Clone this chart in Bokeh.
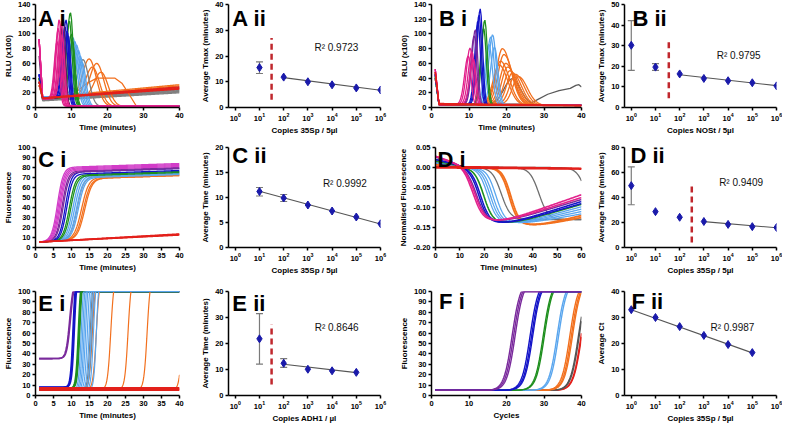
import numpy as np
from bokeh.plotting import figure
from bokeh.layouts import row, column
from bokeh.models import (Range1d, FixedTicker, NumeralTickFormatter, Label, Whisker,
                          TeeHead, ColumnDataSource, LogTickFormatter)
from bokeh.embed import file_html
from bokeh.resources import INLINE

FONT = "Liberation Sans"

# ---------------- colours ----------------
MAGENTA = "#E2218C"
PINK_C = "#D23DC8"
PURPLE = "#7A2A9C"
DARKPUR = "#5E1D5E"
BLUE = "#1414C8"
GREEN = "#1E8F1E"
LBLUE = "#5AA6EE"
ORANGE = "#F2701E"
GRAY = "#808080"
RED = "#E3201B"
DIAMOND = "#1A1AAA"
FIT = "#555555"
CUT = "#C0272D"
ERR = "#7A7A7A"

# ================= DATA =================
# ---- A i : BART luminescence, 35Sp (RLU x100) : peak time / peak height per replicate
ai_mag_tp = [6.0, 6.3, 6.6, 6.9, 7.2, 7.5]
ai_mag_h = [90, 108, 120, 100, 115, 95]
ai_dpur_tp = [7.7]
ai_dpur_h = [120]
ai_blue_tp = [8.2, 8.5, 8.8, 9.1]
ai_blue_h = [110, 119, 104, 98]
ai_green_tp = [9.4, 9.7, 10.0, 10.3]
ai_green_h = [118, 129, 100, 90]
ai_lblue_tp = [10.4, 10.9, 11.4, 11.9, 12.4, 12.9]
ai_lblue_h = [95, 90, 85, 78, 70, 62]
ai_gray_tp = [13.2]
ai_gray_h = [65]
ai_orange_tp = [14.9, 15.8, 17.0, 18.2]
ai_orange_h = [66, 55, 60, 48]
ai_orange_plateau_t = [1, 2, 8, 11, 14, 17, 22, 24, 26, 28, 30, 40]
ai_orange_plateau_y = [40, 14, 14, 20, 32, 40, 40, 33, 18, 2, 1.5, 1.5]
ai_neg_gray_base = [9, 10, 10, 11, 11, 12, 12, 12]
ai_neg_gray_end = [20, 21, 22, 23, 24, 25, 26, 28]
ai_neg_orange_base = [13, 14]
ai_neg_orange_end = [29.5, 31]
ai_neg_red_base = [12, 12.5, 13, 13]
ai_neg_red_end = [25, 26, 27, 28]

# ---- B i : BART luminescence, NOSt
bi_mag_tp = [9.8, 10.3, 10.8, 11.2]
bi_mag_h = [70, 81, 76, 66]
bi_pur_tp = [11.4, 11.7]
bi_pur_h = [98, 106]
bi_blue_tp = [12.4, 12.7, 13.0]
bi_blue_h = [118, 126, 134]
bi_green_tp = [13.9, 14.2]
bi_green_h = [108, 119]
bi_lblue_tp = [15.3, 15.8, 16.3, 16.8]
bi_lblue_h = [86, 96, 99, 82]
bi_orange_tp = [18.0, 18.4, 18.9, 19.3, 19.8, 20.3, 20.9, 21.6, 22.4, 23.2]
bi_orange_h = [58, 63, 80, 72, 60, 55, 50, 47, 45, 42]
bi_gray_tp = [21.5]
bi_gray_h = [39]
bi_gray_late_t = [1, 2, 24, 26, 28, 31, 34, 37, 38.5, 39.3, 40]
bi_gray_late_y = [48, 4, 4.5, 5, 10, 18, 23, 26, 30, 31, 28]
bi_red_base = [3.5, 4.5, 5.5]
bi_red_end = [2, 2.5, 3]

# ---- C i : LAMP fluorescence, 35Sp (midpoint time / value at 40 min)
ci_mag_mid = [6.1, 6.4, 6.7, 7.0]
ci_mag_top = [84, 83, 82, 81]
ci_pur_mid = [7.4, 7.7]
ci_pur_top = [80, 79]
ci_blue_mid = [8.3, 8.7]
ci_blue_top = [79, 77]
ci_green_mid = [9.4, 9.8]
ci_green_top = [76, 75]
ci_lblue_mid = [10.4, 10.9, 11.4, 11.9]
ci_lblue_top = [76, 75, 74, 73]
ci_gray_mid = [11.6]
ci_gray_top = [74]
ci_orange_mid = [12.8, 13.3, 13.7]
ci_orange_top = [73, 72, 72]
ci_red_end = [12.5, 13.0, 13.5]

# ---- D i : normalised fluorescence (midpoint time / value at 60 min)
di_mag_mid = [15.6, 16.3]
di_mag_final = [-0.068, -0.075]
di_pur_mid = [16.8]
di_pur_final = [-0.080]
di_blue_mid = [17.8, 18.5]
di_blue_final = [-0.085, -0.090]
di_green_mid = [19.8]
di_green_final = [-0.092]
di_lblue_mid = [21.5, 22.5, 23.5, 24.8]
di_lblue_final = [-0.098, -0.104, -0.110, -0.116]
di_orange_mid = [30.3, 31.0]
di_orange_final = [-0.120, -0.125]
di_gray_mid = [27.0, 42.5, 62.0]
di_gray_final = [-0.130, -0.130, -0.130]
di_red_start = [0.003, 0.001, -0.001]
di_red_end = [-0.002, -0.003, -0.004]

# ---- E i : fluorescence, ADH1 (midpoint times)
ei_pur_mid = [9.5, 9.7]
ei_blue_mid = [10.4, 10.6, 10.8]
ei_green_mid = [11.9, 12.1, 12.3]
ei_lblue_mid = [12.7, 13.1, 13.5, 13.9, 14.4, 14.9, 15.5, 16.1, 16.9]
ei_gray_mid = [15.2, 15.6]
ei_orange_mid = [15.8, 16.9, 20.9, 25.7, 31.0, 40.85]
ei_red_level = [5.0, 5.6, 6.2, 6.8, 7.4]

# ---- F i : qPCR (midpoint cycles)
fi_pur_mid = [21.5, 21.9, 22.3]
fi_blue_mid = [26.3, 26.7, 27.0]
fi_green_mid = [29.8, 30.1]
fi_lblue_mid = [33.5, 33.9]
fi_orange_mid = [36.9, 37.3, 37.6]
fi_gray_mid = [39.2, 39.4]
fi_red_mid = [39.9, 40.05]

# ---- ii panels (standard curves)
aii_x = [1e1, 1e2, 1e3, 1e4, 1e5, 1e6]
aii_y = [15.5, 11.8, 10.0, 8.8, 7.6, 6.8]
aii_err_x, aii_err_lo, aii_err_hi = [1e1], [13.2], [17.7]
aii_fit_x, aii_fit_y = [1e2, 1e6], [11.6, 6.7]
aii_cut_x, aii_cut_y = [10 ** 1.5, 10 ** 1.5], [3, 27]

bii_x = [1e0, 1e1, 1e2, 1e3, 1e4, 1e5, 1e6]
bii_y = [30.2, 19.6, 16.3, 14.1, 13.0, 12.0, 10.5]
bii_err_x, bii_err_lo, bii_err_hi = [1e0, 1e1], [18.0, 18.0], [42.2, 21.3]
bii_fit_x, bii_fit_y = [1e2, 1e6], [15.9, 10.6]
bii_cut_x, bii_cut_y = [10 ** 1.55, 10 ** 1.55], [4.5, 33]

cii_x = [1e1, 1e2, 1e3, 1e4, 1e5, 1e6]
cii_y = [11.2, 9.9, 8.5, 7.3, 6.1, 4.75]
cii_err_x, cii_err_lo, cii_err_hi = [1e1, 1e2], [10.3, 9.2], [12.0, 10.6]
cii_fit_x, cii_fit_y = [1e1, 1e6], [11.25, 4.7]

dii_x = [1e0, 1e1, 1e2, 1e3, 1e4, 1e5, 1e6]
dii_y = [49.5, 28.7, 24.2, 20.8, 18.5, 16.7, 16.0]
dii_err_x, dii_err_lo, dii_err_hi = [1e0], [34.2], [64.5]
dii_fit_x, dii_fit_y = [1e3, 1e6], [20.7, 15.8]
dii_cut_x, dii_cut_y = [10 ** 2.5, 10 ** 2.5], [4, 50]

eii_x = [1e1, 1e2, 1e3, 1e4, 1e5]
eii_y = [21.8, 12.4, 10.1, 9.5, 8.9]
eii_err_x, eii_err_lo, eii_err_hi = [1e1, 1e2], [12.1, 10.8], [31.5, 14.2]
eii_fit_x, eii_fit_y = [1e2, 1e5], [12.0, 8.8]
eii_cut_x, eii_cut_y = [10 ** 1.5, 10 ** 1.5], [4.2, 27.4]

fii_x = [1e0, 1e1, 1e2, 1e3, 1e4, 1e5]
fii_y = [33.0, 30.0, 26.5, 23.1, 19.6, 16.5]
fii_fit_x, fii_fit_y = [1e0, 1e5], [33.0, 16.4]

copies_ticks = [1e0, 1e1, 1e2, 1e3, 1e4, 1e5, 1e6]
time40_ticks10 = [0, 10, 20, 30, 40]
time40_ticks5 = [0, 5, 10, 15, 20, 25, 30, 35, 40]
time60_ticks = [0, 10, 20, 30, 40, 50, 60]
rlu_ticks = [0, 20, 40, 60, 80, 100, 120, 140]
fluor_ticks = [0, 10, 20, 30, 40, 50, 60, 70, 80, 90, 100]
norm_ticks = [-0.20, -0.15, -0.10, -0.05, 0.00, 0.05]

# ================= LAYOUT =================
COL_W = [198, 198, 198, 188]
COL_L = [27, 25, 27, 28]
COL_R = [19, 16, 13, 6]
ROW_H = [137, 144, 144]
LOG_LO = 10 ** -0.28


def make_fig(ci, ri, top, bottom, xr, yr, xlog=False, left=None):
    w, h = COL_W[ci], ROW_H[ri]
    l = COL_L[ci] if left is None else left
    r = COL_R[ci]
    p = figure(width=w, height=h, min_border_left=l, min_border_right=r,
               min_border_top=top, min_border_bottom=bottom,
               x_range=Range1d(*xr), y_range=Range1d(*yr),
               x_axis_type="log" if xlog else "linear",
               output_backend="svg", toolbar_location=None)
    p.outline_line_color = None
    p.grid.visible = False
    p.background_fill_color = "white"
    p.border_fill_color = "white"
    p._fw = w - l - r
    p._fh = h - top - bottom
    p._xr, p._yr, p._xlog = xr, yr, xlog
    return p


def style(p, xlabel, ylabel, xticks, yticks, yfmt=None):
    for ax in (p.xaxis[0], p.yaxis[0]):
        ax.axis_line_width = 1.5
        ax.axis_line_color = "black"
        ax.major_tick_line_width = 1.5
        ax.major_tick_line_color = "black"
        ax.major_tick_out = 3
        ax.major_tick_in = 0
        ax.minor_tick_line_color = None
        ax.major_label_text_font = FONT
        ax.major_label_text_font_size = "7.5px"
        ax.major_label_text_font_style = "bold"
        ax.major_label_text_color = "black"
        ax.axis_label_text_font = FONT
        ax.axis_label_text_font_size = "8px"
        ax.axis_label_text_font_style = "bold"
        ax.axis_label_text_color = "black"
        ax.major_label_standoff = 2
        ax.axis_label_standoff = 2
    p.xaxis.axis_label = xlabel
    p.yaxis.axis_label = ylabel
    p.xaxis.ticker = FixedTicker(ticks=xticks)
    p.yaxis.ticker = FixedTicker(ticks=yticks)
    if p._xlog:
        p.xaxis.formatter = LogTickFormatter()
    if yfmt:
        p.yaxis.formatter = NumeralTickFormatter(format=yfmt)


def tag(p, text, dx, dy):
    xr, yr, fw, fh = p._xr, p._yr, p._fw, p._fh
    if p._xlog:
        a, b = np.log10(xr[0]), np.log10(xr[1])
        x = 10 ** (a + dx * (b - a) / fw)
    else:
        x = xr[0] + dx * (xr[1] - xr[0]) / fw
    y = yr[1] - dy * (yr[1] - yr[0]) / fh
    p.add_layout(Label(x=x, y=y, text=text, text_font=FONT, text_font_size="22px",
                       text_font_style="bold", text_baseline="alphabetic",
                       text_align="left", text_color="black"))


def r2(p, text, x, y):
    p.add_layout(Label(x=x, y=y, text=text, text_font=FONT, text_font_size="10px",
                       text_baseline="middle", text_align="left", text_color="#111111"))


def ml(p, t, curves, color, width=1.3):
    p.multi_line([list(t)] * len(curves), [list(c) for c in curves],
                 line_color=color, line_width=width)


# curve shapes
def rlu_peak(t, start, base, floor, tp, h, wr, wf):
    rise = base + (h - base) * np.exp(-((t - tp) / wr) ** 2)
    fall = floor + (h - floor) * np.exp(-((t - tp) / wf) ** 2)
    y = np.where(t < tp, rise, fall)
    return np.where(t < 2, start + (base - start) * (t - 1), y)


def rlu_drift(t, start, base, end):
    return np.where(t < 2, start + (base - start) * (t - 1), base + (end - base) * (t - 2) / 38)


def sig_rise(t, mid, s, top):
    lo = 5.5 + 0.2 * (t - 1)
    hi = top - 0.12 * (40 - t)
    return lo + (hi - lo) / (1 + np.exp(-(t - mid) / s))


def dip(t, start, mid, s, depth, final):
    pre = start * np.clip(1 - t / 14, 0, None)
    drop = -depth / (1 + np.exp(-(t - mid) / s))
    tmin = mid + 13
    ramp = 4 * np.log1p(np.exp((t - tmin) / 4))
    ramp_end = 4 * np.log1p(np.exp((60 - tmin) / 4))
    return pre + drop + (final + depth) * ramp / ramp_end


def clip_rise(t, base, mid, s, amp):
    return np.minimum(100, base + amp / (1 + np.exp(-(t - mid) / s)))


def standard_panel(p, xs, ys, ex, elo, ehi, fx, fy, cut=None):
    if cut is not None:
        p.line(cut[0], cut[1], line_color=CUT, line_width=2.5, line_dash="6 4")
    p.line(fx, fy, line_color=FIT, line_width=1.1)
    if ex:
        src = ColumnDataSource(dict(x=ex, lo=elo, hi=ehi))
        p.add_layout(Whisker(source=src, base="x", lower="lo", upper="hi",
                             line_color=ERR, line_width=1.2,
                             upper_head=TeeHead(size=7, line_color=ERR, line_width=1.2),
                             lower_head=TeeHead(size=7, line_color=ERR, line_width=1.2)))
    p.scatter(xs, ys, marker="diamond", size=8, fill_color=DIAMOND, line_color=DIAMOND)


# ================= A i =================
ai = make_fig(0, 0, 4, 28, (0, 40), (0, 140))
style(ai, "Time (minutes)", "RLU (x100)", time40_ticks10, rlu_ticks)
t = np.arange(1, 40.001, 0.25)
ml(ai, t, [rlu_drift(t, 35, b, e) for b, e in zip(ai_neg_gray_base, ai_neg_gray_end)], GRAY)
ml(ai, t, [rlu_drift(t, 35, b, e) for b, e in zip(ai_neg_orange_base, ai_neg_orange_end)], ORANGE)
ai.line(ai_orange_plateau_t, ai_orange_plateau_y, line_color=ORANGE, line_width=1.3)
ml(ai, t, [rlu_peak(t, 30, 14, 1.5, a, b, 2.6, 2.8) for a, b in zip(ai_orange_tp, ai_orange_h)], ORANGE)
ml(ai, t, [rlu_peak(t, 30, 13, 1.5, a, b, 2.2, 2.2) for a, b in zip(ai_gray_tp, ai_gray_h)], GRAY)
ml(ai, t, [rlu_peak(t, 35, 14, 1.5, a, b, 1.8, 1.5) for a, b in zip(ai_lblue_tp, ai_lblue_h)], LBLUE)
ml(ai, t, [rlu_peak(t, 40, 13, 1.5, a, b, 1.4, 1.1) for a, b in zip(ai_green_tp, ai_green_h)], GREEN)
ml(ai, t, [rlu_peak(t, 45, 13, 1.5, a, b, 1.3, 1.0) for a, b in zip(ai_blue_tp, ai_blue_h)], BLUE)
ml(ai, t, [rlu_peak(t, 70, 12, 1.5, a, b, 1.2, 0.9) for a, b in zip(ai_dpur_tp, ai_dpur_h)], DARKPUR)
ml(ai, t, [rlu_peak(t, 93, 12, 2.0, a, b, 1.1, 0.9) for a, b in zip(ai_mag_tp, ai_mag_h)], MAGENTA)
ml(ai, t, [rlu_drift(t, 35, b, e) for b, e in zip(ai_neg_red_base, ai_neg_red_end)], RED)
tag(ai, "A i", 3, 14)

# ================= A ii =================
aii = make_fig(1, 0, 4, 30, (LOG_LO, 1e6), (0, 40), xlog=True)
style(aii, "Copies 35Sp / 5µl", "Average Tmax (minutes)", copies_ticks, [0, 10, 20, 30, 40])
standard_panel(aii, aii_x, aii_y, aii_err_x, aii_err_lo, aii_err_hi, aii_fit_x, aii_fit_y,
               (aii_cut_x, aii_cut_y))
r2(aii, "R² 0.9723", 10 ** 3.27, 23.2)
tag(aii, "A ii", 4, 14)

# ================= B i =================
bi = make_fig(2, 0, 4, 28, (0, 40), (0, 140))
style(bi, "Time (minutes)", "RLU (x100)", time40_ticks10, rlu_ticks)
bi.line(bi_gray_late_t, bi_gray_late_y, line_color="#5A5A5A", line_width=1.3)
ml(bi, t, [rlu_peak(t, 40, 5, 3, a, b, 3.0, 3.2) for a, b in zip(bi_gray_tp, bi_gray_h)], "#5A5A5A")
ml(bi, t, [rlu_peak(t, 40, 5, 3, a, b, 2.2, 3.3) for a, b in zip(bi_orange_tp, bi_orange_h)], ORANGE)
ml(bi, t, [rlu_peak(t, 40, 4, 3, a, b, 1.5, 1.3) for a, b in zip(bi_lblue_tp, bi_lblue_h)], LBLUE)
ml(bi, t, [rlu_peak(t, 42, 4, 3, a, b, 1.2, 1.0) for a, b in zip(bi_green_tp, bi_green_h)], GREEN)
ml(bi, t, [rlu_peak(t, 45, 4, 3, a, b, 1.2, 0.9) for a, b in zip(bi_blue_tp, bi_blue_h)], BLUE)
ml(bi, t, [rlu_peak(t, 45, 4, 3, a, b, 1.3, 0.9) for a, b in zip(bi_pur_tp, bi_pur_h)], PURPLE)
ml(bi, t, [rlu_peak(t, 52, 4, 3, a, b, 1.4, 1.0) for a, b in zip(bi_mag_tp, bi_mag_h)], MAGENTA)
ml(bi, t, [rlu_drift(t, 48, b, e) for b, e in zip(bi_red_base, bi_red_end)], RED)
tag(bi, "B i", 8, 14)

# ================= B ii =================
bii = make_fig(3, 0, 4, 30, (LOG_LO, 1e6), (0, 50), xlog=True)
style(bii, "Copies NOSt / 5µl", "Average Tmax (minutes)", copies_ticks, [0, 10, 20, 30, 40, 50])
standard_panel(bii, bii_x, bii_y, bii_err_x, bii_err_lo, bii_err_hi, bii_fit_x, bii_fit_y,
               (bii_cut_x, bii_cut_y))
r2(bii, "R² 0.9795", 10 ** 3.53, 25.2)
tag(bii, "B ii", 8, 14)

# ================= C i =================
ci = make_fig(0, 1, 5, 34, (0, 40), (0, 100))
style(ci, "Time (minutes)", "Fluorescence", time40_ticks5, fluor_ticks)
ml(ci, t, [sig_rise(t, m, 1.0, top) for m, top in zip(ci_orange_mid, ci_orange_top)], ORANGE)
ml(ci, t, [sig_rise(t, m, 0.9, top) for m, top in zip(ci_gray_mid, ci_gray_top)], "#8C9BB0")
ml(ci, t, [sig_rise(t, m, 0.9, top) for m, top in zip(ci_lblue_mid, ci_lblue_top)], LBLUE)
ml(ci, t, [sig_rise(t, m, 0.85, top) for m, top in zip(ci_green_mid, ci_green_top)], GREEN)
ml(ci, t, [sig_rise(t, m, 0.8, top) for m, top in zip(ci_blue_mid, ci_blue_top)], BLUE)
ml(ci, t, [sig_rise(t, m, 0.8, top) for m, top in zip(ci_pur_mid, ci_pur_top)], PURPLE)
ml(ci, t, [sig_rise(t, m, 0.8, top) for m, top in zip(ci_mag_mid, ci_mag_top)], PINK_C)
ml(ci, t, [5.5 + (e - 5.5) * (t - 1) / 39 for e in ci_red_end], RED, 1.6)
tag(ci, "C i", 3, 13)

# ================= C ii =================
cii = make_fig(1, 1, 10, 29, (LOG_LO, 1e6), (0, 20), xlog=True)
style(cii, "Copies 35Sp / 5µl", "Average Time (minutes)", copies_ticks, [0, 5, 10, 15, 20])
standard_panel(cii, cii_x, cii_y, cii_err_x, cii_err_lo, cii_err_hi, cii_fit_x, cii_fit_y)
r2(cii, "R² 0.9992", 10 ** 3.62, 12.8)
tag(cii, "C ii", 4, 8)

# ================= D i =================
di = make_fig(2, 1, 5, 34, (0, 60), (-0.20, 0.05), left=32)
style(di, "Time (minutes)", "Normalised Fluorescence", time60_ticks, norm_ticks, "0.00")
td = np.arange(0, 60.001, 0.25)
ml(di, td, [dip(td, 0.010, m, 1.9, 0.13, f) for m, f in zip(di_gray_mid, di_gray_final)], "#6E6E6E")
ml(di, td, [dip(td, 0.008, m, 1.8, 0.145, f) for m, f in zip(di_orange_mid, di_orange_final)], ORANGE, 1.8)
ml(di, td, [dip(td, 0.012, m, 1.9, 0.14, f) for m, f in zip(di_lblue_mid, di_lblue_final)], LBLUE)
ml(di, td, [dip(td, 0.016, m, 1.9, 0.14, f) for m, f in zip(di_green_mid, di_green_final)], GREEN, 1.6)
ml(di, td, [dip(td, 0.020, m, 1.9, 0.14, f) for m, f in zip(di_blue_mid, di_blue_final)], BLUE, 1.5)
ml(di, td, [dip(td, 0.026, m, 2.0, 0.135, f) for m, f in zip(di_pur_mid, di_pur_final)], PURPLE, 1.5)
ml(di, td, [dip(td, 0.028, m, 2.0, 0.135, f) for m, f in zip(di_mag_mid, di_mag_final)], MAGENTA, 1.6)
ml(di, td, [s + (e - s) * td / 60 for s, e in zip(di_red_start, di_red_end)], RED, 1.6)
tag(di, "D i", 2, 13)

# ================= D ii =================
dii = make_fig(3, 1, 10, 29, (LOG_LO, 1e6), (0, 80), xlog=True)
style(dii, "Copies 35Sp / 5µl", "Average Time (minutes)", copies_ticks, [0, 20, 40, 60, 80])
standard_panel(dii, dii_x, dii_y, dii_err_x, dii_err_lo, dii_err_hi, dii_fit_x, dii_fit_y,
               (dii_cut_x, dii_cut_y))
r2(dii, "R² 0.9409", 10 ** 3.63, 51.8)
tag(dii, "D ii", 6, 8)

# ================= E i =================
ei = make_fig(0, 2, 10, 29, (0, 40), (0, 100))
style(ei, "Time (minutes)", "Fluorescence", time40_ticks5, fluor_ticks)
te = np.arange(1, 40.001, 0.1)
ml(ei, te, [clip_rise(te, 35.5, m, 0.5, 75) for m in ei_pur_mid], PURPLE, 1.6)
ml(ei, te, [clip_rise(te, 8, m, 0.35, 110) for m in ei_blue_mid], BLUE, 1.5)
ml(ei, te, [clip_rise(te, 7, m, 0.35, 110) for m in ei_green_mid], GREEN, 1.5)
ml(ei, te, [clip_rise(te, 5.5, m, 0.45, 110) for m in ei_orange_mid], ORANGE, 1.2)
ml(ei, te, [clip_rise(te, 5.5, m, 0.35, 110) for m in ei_gray_mid], GRAY, 1.2)
ml(ei, te, [clip_rise(te, 5.5, m, 0.35, 110) for m in ei_lblue_mid], LBLUE, 1.2)
ml(ei, te, [np.full_like(te, v) for v in ei_red_level], RED, 1.6)
tag(ei, "E i", 3, 12)

# ================= E ii =================
eii = make_fig(1, 2, 10, 29, (LOG_LO, 1e6), (0, 40), xlog=True)
style(eii, "Copies ADH1 / µl", "Average Time (minutes)", copies_ticks, [0, 10, 20, 30, 40])
standard_panel(eii, eii_x, eii_y, eii_err_x, eii_err_lo, eii_err_hi, eii_fit_x, eii_fit_y,
               (eii_cut_x, eii_cut_y))
r2(eii, "R² 0.8646", 10 ** 3.28, 26.0)
tag(eii, "E ii", 4, 12)

# ================= F i =================
fi = make_fig(2, 2, 10, 29, (0, 40), (0, 100))
style(fi, "Cycles", "Fluorescence", time40_ticks10, fluor_ticks)
tf = np.arange(1, 40.001, 0.25)
ml(fi, tf, [clip_rise(tf, 5, m, 1.1, 105) for m in fi_red_mid], RED, 1.5)
ml(fi, tf, [clip_rise(tf, 5, m, 1.1, 105) for m in fi_gray_mid], "#555555", 1.4)
ml(fi, tf, [clip_rise(tf, 5, m, 1.1, 105) for m in fi_orange_mid], ORANGE, 1.4)
ml(fi, tf, [clip_rise(tf, 5, m, 1.1, 105) for m in fi_lblue_mid], LBLUE, 1.4)
ml(fi, tf, [clip_rise(tf, 5, m, 1.1, 105) for m in fi_green_mid], GREEN, 1.4)
ml(fi, tf, [clip_rise(tf, 5, m, 1.1, 105) for m in fi_blue_mid], BLUE, 1.4)
ml(fi, tf, [clip_rise(tf, 5, m, 1.1, 105) for m in fi_pur_mid], PURPLE, 1.4)
tag(fi, "F i", 8, 10)

# ================= F ii =================
fii = make_fig(3, 2, 10, 29, (LOG_LO, 1e6), (0, 40), xlog=True)
style(fii, "Copies 35Sp / 5µl", "Average Ct", copies_ticks, [0, 10, 20, 30, 40])
standard_panel(fii, fii_x, fii_y, [], [], [], fii_fit_x, fii_fit_y)
r2(fii, "R² 0.9987", 10 ** 3.27, 26.3)
tag(fii, "F ii", 7, 10)

layout = column(row(ai, aii, bi, bii), row(ci, cii, di, dii), row(ei, eii, fi, fii))
open("out.html", "w").write(file_html(layout, INLINE))
